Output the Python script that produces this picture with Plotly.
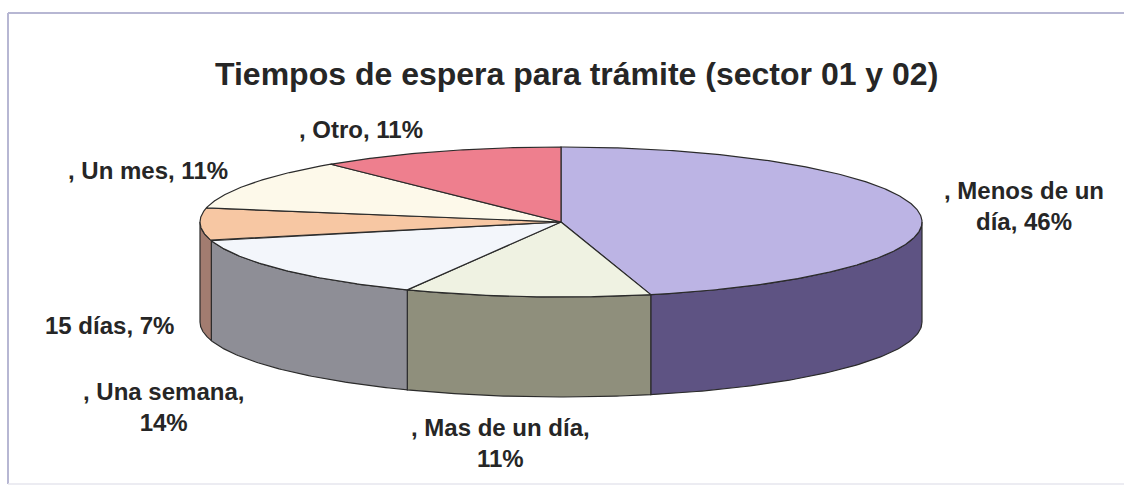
import numpy as np
import plotly.graph_objects as go

# ---- data ----
categories = ["Menos de un día", "Mas de un día", "Una semana", "15 días", "Un mes", "Otro"]
values = [46, 11, 14, 7, 11, 11]
label_templates = [
    ", Menos de un<br>día, {v}%",
    ", Mas de un día,<br>{v}%",
    ", Una semana,<br>{v}%",
    "15 días, {v}%",
    ", Un mes, {v}%",
    ", Otro, {v}%",
]
title_text = "Tiempos de espera para trámite (sector 01 y 02)"

# ---- style ----
top_colors = ["#bcb4e4", "#eff2e2", "#f3f6fb", "#f7c7a3", "#fdf9ea", "#ee7f8e"]
side_colors = ["#5e5383", "#8f8f7c", "#8e8e96", "#a27c70", "#d8d4c0", "#b85a66"]
label_pos = [(1024, 206), (500, 443), (163, 407), (109, 325), (148, 170), (361, 129)]
edge = "#2b2b2b"
W, H = 1124, 492
cx, cy, rx, ry, depth = 561, 222, 361, 75, 100


def pt(theta_deg, dy=0.0):
    t = np.radians(theta_deg)
    return cx + rx * np.sin(t), cy - ry * np.cos(t) + dy


fig = go.Figure()

total = float(sum(values))
bounds = np.concatenate([[0.0], np.cumsum(values) / total * 360.0])

# side faces (front half only: 90..270 deg)
for i in range(len(values)):
    a, b = bounds[i], bounds[i + 1]
    lo, hi = max(a, 90.0), min(b, 270.0)
    if hi <= lo:
        continue
    th = np.linspace(lo, hi, 80)
    xt, yt = pt(th)
    xb, yb = pt(th[::-1], depth)
    xs = np.concatenate([xt, xb, xt[:1]])
    ys = np.concatenate([yt, yb, yt[:1]])
    fig.add_trace(go.Scatter(x=xs, y=ys, mode="lines", fill="toself",
                             fillcolor=side_colors[i],
                             line=dict(color=edge, width=1.2),
                             hoverinfo="skip", showlegend=False))

# top faces
for i in range(len(values)):
    a, b = bounds[i], bounds[i + 1]
    th = np.linspace(a, b, max(int((b - a) * 2), 8))
    xa, ya = pt(th)
    xs = np.concatenate([[cx], xa, [cx]])
    ys = np.concatenate([[cy], ya, [cy]])
    fig.add_trace(go.Scatter(x=xs, y=ys, mode="lines", fill="toself",
                             fillcolor=top_colors[i],
                             line=dict(color=edge, width=1.2),
                             name=categories[i],
                             hovertemplate=f"{categories[i]}: {values[i]}%<extra></extra>",
                             showlegend=False))

annotations = []
for i in range(len(values)):
    x, y = label_pos[i]
    annotations.append(dict(x=x, y=y, xref="x", yref="y", showarrow=False,
                            text=label_templates[i].format(v=values[i]),
                            xanchor="center", yanchor="middle", align="center",
                            font=dict(family="Liberation Sans, Arial, sans-serif",
                                      size=24, color="#262626", weight="bold")))
annotations.append(dict(x=576, y=74, xref="x", yref="y", showarrow=False,
                        text=title_text, xanchor="center", yanchor="middle",
                        font=dict(family="Liberation Sans, Arial, sans-serif",
                                  size=32, color="#262626", weight="bold")))

frame = "#b7b7d3"
fig.update_layout(
    width=W, height=H, autosize=False,
    margin=dict(l=0, r=0, t=0, b=0),
    paper_bgcolor="white", plot_bgcolor="white",
    xaxis=dict(range=[0, W], visible=False, fixedrange=True),
    yaxis=dict(range=[H, 0], visible=False, fixedrange=True),
    annotations=annotations,
    shapes=[
        dict(type="line", xref="x", yref="y", x0=8, y0=13, x1=W, y1=13,
             line=dict(color=frame, width=2), layer="below"),
        dict(type="line", xref="x", yref="y", x0=8, y0=13, x1=8, y1=484,
             line=dict(color=frame, width=2), layer="below"),
        dict(type="line", xref="x", yref="y", x0=8, y0=484, x1=W, y1=484,
             line=dict(color="#e6e6ee", width=1.5), layer="below"),
    ],
)

fig.write_html("out.html")
